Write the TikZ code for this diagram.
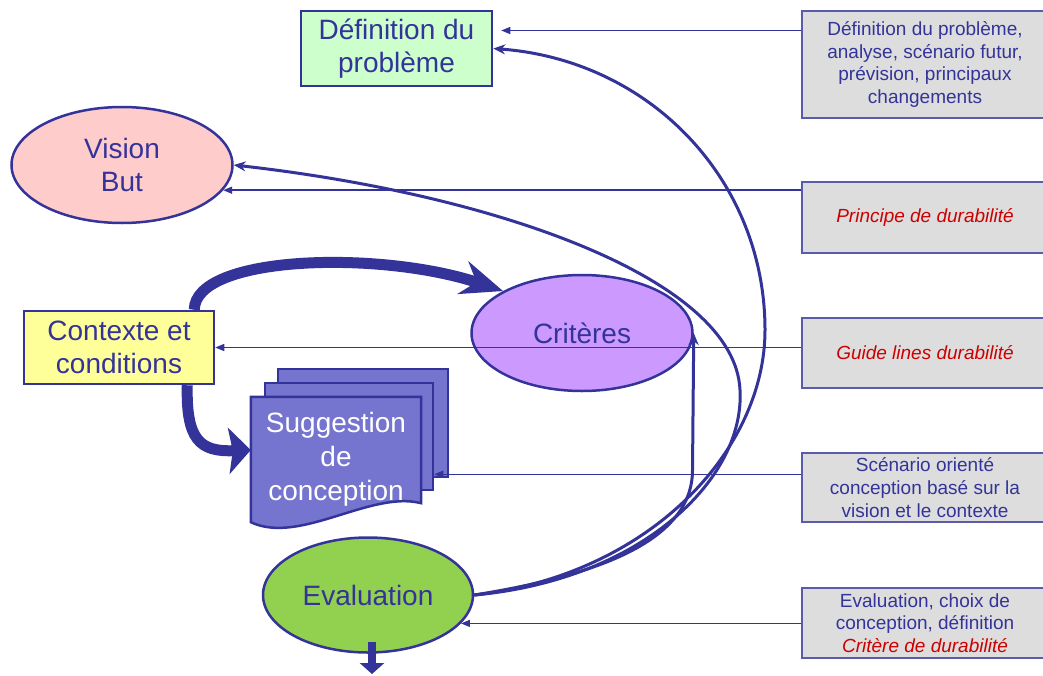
\documentclass[tikz,border=0pt]{standalone}
\usepackage{fontspec}
\setmainfont{Liberation Sans}
\usetikzlibrary{shapes.geometric,arrows.meta}
\definecolor{bleu}{HTML}{333399}
\definecolor{bleuclair}{HTML}{5B5BAE}
\definecolor{gris}{HTML}{DDDDDD}
\definecolor{vert}{HTML}{CCFFCC}
\definecolor{rose}{HTML}{FFCCCC}
\definecolor{jaune}{HTML}{FFFF99}
\definecolor{mauve}{HTML}{CC99FF}
\definecolor{violet}{HTML}{7575CF}
\definecolor{vertfonce}{HTML}{92D050}
\definecolor{rouge}{HTML}{CC0000}
\begin{document}
\begin{tikzpicture}[x=1pt,y=-1pt]
\tikzset{boite/.style={draw=bleu, line width=2.5pt, text=bleu, align=center, inner sep=0pt, font=\fontsize{28}{33}\selectfont}}
\tikzset{ovale/.style={boite, ellipse}}
\tikzset{page/.style={draw=bleu, fill=violet, line width=2.5pt, inner sep=0pt}}
\tikzset{note/.style={draw=bleuclair, fill=gris, line width=1.8pt, text=bleu, align=center, minimum width=246pt, inner sep=0pt, font=\fontsize{19}{22.6}\selectfont}}
\tikzset{fin/.style={draw=bleu, line width=1.5pt, -{Triangle[length=9pt,width=7pt]}}}
\tikzset{retour/.style={draw=bleu, line width=3pt, -{Stealth[length=12pt,width=10pt]}}}
\tikzset{gros/.style={draw=bleu, line width=11pt}}
\useasboundingbox (0,0) rectangle (1043,675);
\node[boite, fill=vert, minimum width=191pt, minimum height=75pt] (def) at (396.5,48.5) {Définition du\\problème};
\node[ovale, fill=rose, minimum width=221pt, minimum height=116pt] (vision) at (122,165) {Vision\\But};
\node[boite, fill=jaune, minimum width=190pt, minimum height=73pt] (ctx) at (119,347.5) {Contexte et\\conditions};
\node[ovale, fill=mauve, minimum width=221pt, minimum height=116pt] (crit) at (582,333) {Critères};
\node[ovale, fill=vertfonce, minimum width=210pt, minimum height=115pt] (eval) at (368,595) {Evaluation};
\node[page, minimum width=170pt, minimum height=108pt] (doc3) at (363,423) {};
\node[page, minimum width=168pt, minimum height=107pt] (doc2) at (349,436.5) {};
\node[minimum width=170pt, minimum height=106pt, inner sep=0pt] (doc1) at (336,450) {};
\filldraw[page] (doc1.north west) -- (doc1.north east) -- (doc1.south east) .. controls +(-51,-13) and +(49,23) .. ([yshift=-19pt]doc1.south west) -- cycle;
\node[text=white, align=center, font=\fontsize{28}{34}\selectfont] (sugg) at ([yshift=-9pt]doc1.center) {Suggestion\\de\\conception};
\node[note, minimum height=107pt] (r1) at (925,64.5) {Définition du problème,\\analyse, scénario futur,\\prévision, principaux\\changements};
\node[note, minimum height=71pt] (r2) at (925,217.5) {\textcolor{rouge}{\itshape Principe de durabilité}};
\node[note, minimum height=70pt] (r3) at (925,353) {\textcolor{rouge}{\itshape Guide lines durabilité}};
\node[note, minimum height=69pt] (r4) at (925,487.5) {Scénario orienté\\conception basé sur la\\vision et le contexte};
\node[note, minimum height=70pt] (r5) at (925,623) {Evaluation, choix de\\conception, définition\\\textcolor{rouge}{\itshape Critère de durabilité}};
\coordinate (d1) at ([xshift=8pt,yshift=18pt]def.east);
\coordinate (d4) at ([yshift=17pt]doc2.south east);
\coordinate (sortie) at (372,674);
\draw[fin] (d1 -| r1.west) -- (d1);
\draw[fin] (vision.-14 -| r2.west) -- (vision.-14);
\draw[fin] (r3.west |- ctx.east) -- (ctx.east);
\draw[fin] (d4 -| r4.west) -- (d4);
\draw[fin] (eval.-17 -| r5.west) -- (eval.-17);
\draw[retour] (eval.east) .. controls (600,575) and (692.5,540) .. (692.5,470) -- (crit.east);
\draw[retour] (eval.east) .. controls (640,580) and (745,480) .. (740,390) .. controls (735,280) and (500,195) .. (vision.east);
\draw[retour] (eval.east) .. controls (650,575) and (765,450) .. (765,330) .. controls (765,180) and (650,60) .. (def.east);
\draw[gros, -{Stealth[length=42pt,width=34pt,inset=14pt]}] ([xshift=-21pt]ctx.north east) .. controls (195,255) and (380,250) .. (crit.152);
\draw[gros, -{Stealth[length=22pt,width=46pt,inset=4pt]}] ([xshift=-28pt]ctx.south east) .. controls (186,440) and (200,452) .. (doc1.west);
\draw[draw=bleu, line width=8pt, -{Triangle[length=11pt,width=24pt]}] ([xshift=4pt,yshift=12pt]eval.south) -- (sortie);
\end{tikzpicture}
\end{document}
